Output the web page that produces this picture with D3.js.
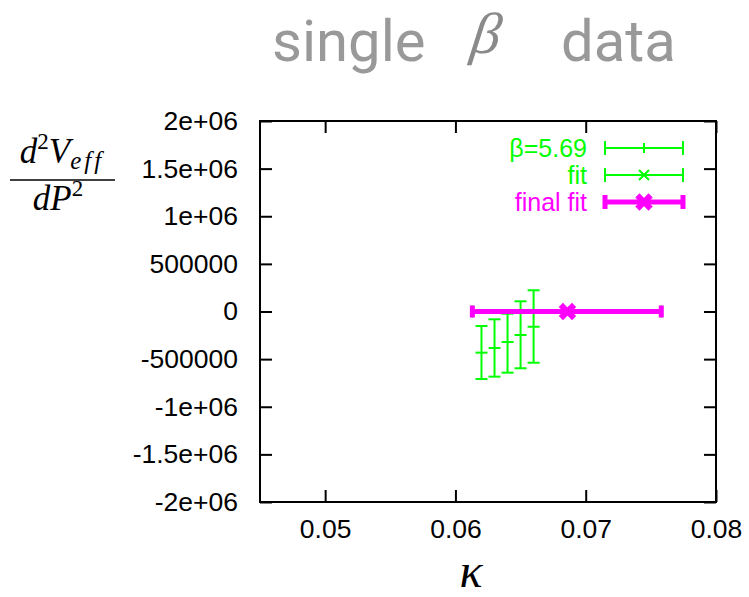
<!DOCTYPE html>
<html><head><meta charset="utf-8">
<script src="https://cdn.jsdelivr.net/npm/d3@7"></script>
<style>body{margin:0;background:#fff}svg{display:block}</style>
</head><body>
<script>
// ---- data ----
const kappa   = [0.062, 0.063, 0.064, 0.065, 0.066];
const d2V     = [-432000, -383000, -320000, -247000, -160000];
const d2Vlow  = [-709000, -684000, -642000, -596000, -538000];
const d2Vhigh = [-152000, -82000, -23000, 107000, 223000];
const fitKappa = [0.0686];
const fitLow   = [0.0613];
const fitHigh  = [0.0758];
const fitVal   = [0];
const xTicks = [0.05, 0.06, 0.07, 0.08];
const xTickLabels = ["0.05", "0.06", "0.07", "0.08"];
const yTicks = [2e6, 1.5e6, 1e6, 5e5, 0, -5e5, -1e6, -1.5e6, -2e6];
const yTickLabels = ["2e+06", "1.5e+06", "1e+06", "500000", "0", "-500000", "-1e+06", "-1.5e+06", "-2e+06"];
const legendLabels = ["\u03B2=5.69", "fit", "final fit"];

const W = 749, H = 597;
const m = {l: 260, r: 716, t: 121, b: 502};
const GREEN = "#00ff00", MAG = "#ff00ff";
const svg = d3.select("body").append("svg").attr("width", W).attr("height", H);
const x = d3.scaleLinear().domain([0.045, 0.08]).range([m.l, m.r]);
const y = d3.scaleLinear().domain([-2e6, 2e6]).range([m.b, m.t]);
const TF = "'Liberation Sans', Arial, Helvetica, sans-serif";
const MF = "'Liberation Serif', 'Times New Roman', serif";

// title
svg.append("text").attr("x", 272).attr("y", 61).attr("fill", "#999").attr("font-family", "Roboto, 'Liberation Sans', sans-serif")
  .attr("font-size", 58).text("single");
svg.append("text").attr("x", 470).attr("y", 53).attr("fill", "#8a8a8a").attr("font-family", MF)
  .attr("font-style", "italic").attr("font-size", 58).attr("transform", "skewX(-8) translate(7,0)").text("\u03B2");
svg.append("text").attr("x", 561).attr("y", 61).attr("fill", "#999").attr("font-family", "Roboto, 'Liberation Sans', sans-serif")
  .attr("font-size", 58).text("data");

// axes (inward ticks, mirrored)
const TL = 12;
const axB = d3.axisBottom(x).tickValues(xTicks).tickFormat((d,i)=>xTickLabels[i]).tickSizeInner(-TL).tickSizeOuter(0).tickPadding(20);
const axT = d3.axisTop(x).tickValues(xTicks).tickFormat("").tickSizeInner(-TL).tickSizeOuter(0);
const axL = d3.axisLeft(y).tickValues(yTicks).tickFormat((d,i)=>yTickLabels[i]).tickSizeInner(-TL).tickSizeOuter(0).tickPadding(22);
const axR = d3.axisRight(y).tickValues(yTicks).tickFormat("").tickSizeInner(-TL).tickSizeOuter(0);
function style(g){
  g.select(".domain").remove();
  g.selectAll("line").attr("stroke", "#000").attr("stroke-width", 2);
  g.selectAll("text").attr("font-family", TF).attr("font-size", 26.5).attr("fill", "#000");
}
const gB = svg.append("g").attr("transform", `translate(0,${m.b})`).call(axB).call(style);
gB.selectAll("text").attr("y", 17);
svg.append("g").attr("transform", `translate(0,${m.t})`).call(axT).call(style);
svg.append("g").attr("transform", `translate(${m.l},0)`).call(axL).call(style);
svg.append("g").attr("transform", `translate(${m.r},0)`).call(axR).call(style);
svg.append("rect").attr("x", m.l).attr("y", m.t).attr("width", m.r - m.l).attr("height", m.b - m.t)
  .attr("fill", "none").attr("stroke", "#000").attr("stroke-width", 2);

// green error bars
const gD = svg.append("g").attr("stroke", GREEN).attr("stroke-width", 2).attr("fill", "none");
kappa.forEach((k, i) => {
  const cx = x(k);
  gD.append("line").attr("x1", cx).attr("x2", cx).attr("y1", y(d2Vlow[i])).attr("y2", y(d2Vhigh[i]));
  gD.append("line").attr("x1", cx - 6).attr("x2", cx + 6).attr("y1", y(d2Vlow[i])).attr("y2", y(d2Vlow[i]));
  gD.append("line").attr("x1", cx - 6).attr("x2", cx + 6).attr("y1", y(d2Vhigh[i])).attr("y2", y(d2Vhigh[i]));
  gD.append("line").attr("x1", cx - 6).attr("x2", cx + 6).attr("y1", y(d2V[i])).attr("y2", y(d2V[i]));
});

// fit (green, under the final fit) and final fit (magenta)
function xbar(g, c, lo, hi, v, col, sw, capH, capW, ms, msw) {
  const cy = y(v);
  g.append("line").attr("x1", x(lo)).attr("x2", x(hi)).attr("y1", cy).attr("y2", cy)
    .attr("stroke", col).attr("stroke-width", sw);
  [lo, hi].forEach(e => g.append("line").attr("x1", x(e)).attr("x2", x(e)).attr("y1", cy - capH).attr("y2", cy + capH)
    .attr("stroke", col).attr("stroke-width", capW));
  const cx = x(c);
  g.append("path").attr("d", `M${cx-ms},${cy-ms}L${cx+ms},${cy+ms}M${cx-ms},${cy+ms}L${cx+ms},${cy-ms}`)
    .attr("stroke", col).attr("stroke-width", msw).attr("fill", "none").attr("stroke-linecap", "square");
}
const gF = svg.append("g");
xbar(gF, fitKappa[0], fitLow[0], fitHigh[0], fitVal[0], GREEN, 2, 6, 2, 5, 2);
xbar(gF, fitKappa[0], fitLow[0], fitHigh[0], fitVal[0], MAG, 5, 6, 5, 4.5, 6);

// legend
const legY = [148, 175, 202];
const legCols = [GREEN, GREEN, MAG];
const lg = svg.append("g");
legendLabels.forEach((t, i) => {
  const cy = legY[i];
  lg.append("text").attr("x", 587).attr("y", cy + 9).attr("text-anchor", "end")
    .attr("font-family", TF).attr("font-size", 25).attr("fill", legCols[i]).text(t);
  const sw = i === 2 ? 5 : 2;
  lg.append("line").attr("x1", 605).attr("x2", 683).attr("y1", cy).attr("y2", cy).attr("stroke", legCols[i]).attr("stroke-width", sw);
  [605, 683].forEach(ex => lg.append("line").attr("x1", ex).attr("x2", ex).attr("y1", cy - 7).attr("y2", cy + 7)
    .attr("stroke", legCols[i]).attr("stroke-width", sw));
  const cx = 644;
  if (i === 0) lg.append("line").attr("x1", cx).attr("x2", cx).attr("y1", cy - 5).attr("y2", cy + 5).attr("stroke", GREEN).attr("stroke-width", 2);
  if (i === 1) lg.append("path").attr("d", `M${cx-5},${cy-5}L${cx+5},${cy+5}M${cx-5},${cy+5}L${cx+5},${cy-5}`).attr("stroke", GREEN).attr("stroke-width", 2);
  if (i === 2) lg.append("path").attr("d", `M${cx-4.5},${cy-4.5}L${cx+4.5},${cy+4.5}M${cx-4.5},${cy+4.5}L${cx+4.5},${cy-4.5}`)
    .attr("stroke", MAG).attr("stroke-width", 6).attr("stroke-linecap", "square");
});

// y label: d^2 V_eff / dP^2
const num = svg.append("text").attr("x", 62).attr("y", 163).attr("text-anchor", "middle").attr("font-family", MF)
  .attr("font-style", "italic").attr("font-size", 35);
num.append("tspan").text("d");
num.append("tspan").attr("font-size", 23).attr("font-style", "normal").attr("dy", -14).text("2");
num.append("tspan").attr("dy", 14).text("V");
num.append("tspan").attr("font-size", 25).attr("dy", 6).attr("letter-spacing", 3).text("eff");
svg.append("line").attr("x1", 10).attr("x2", 115).attr("y1", 180).attr("y2", 180).attr("stroke", "#000").attr("stroke-width", 1.5);
const den = svg.append("text").attr("x", 58).attr("y", 210).attr("text-anchor", "middle").attr("font-family", MF)
  .attr("font-style", "italic").attr("font-size", 35);
den.append("tspan").text("dP");
den.append("tspan").attr("font-size", 23).attr("font-style", "normal").attr("dy", -14).text("2");

// x label kappa
svg.append("text").attr("x", 471).attr("y", 587).attr("text-anchor", "middle").attr("font-family", MF)
  .attr("font-style", "italic").attr("font-size", 48).text("\u03BA");
</script>
</body></html>
